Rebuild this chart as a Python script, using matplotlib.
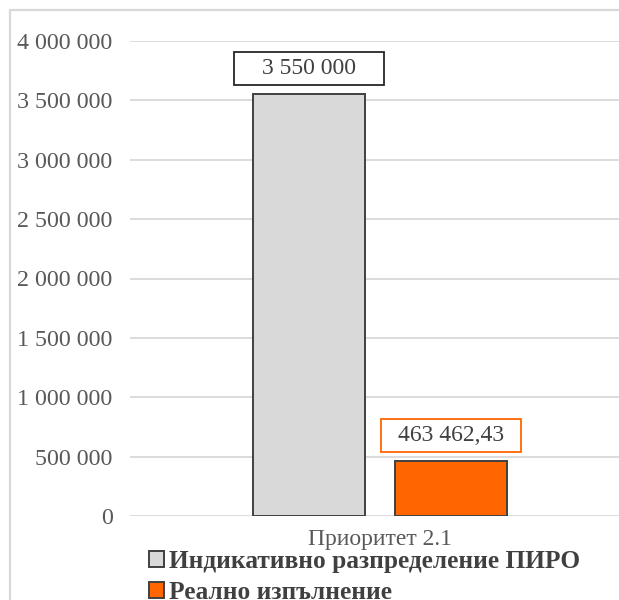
import matplotlib
matplotlib.use("Agg")
import matplotlib.pyplot as plt
from matplotlib.patches import Patch, Rectangle
from matplotlib.path import Path
from matplotlib.ticker import FuncFormatter, MultipleLocator

# ---- data ----
category = "Приоритет 2.1"
series_names = ["Индикативно разпределение ПИРО", "Реално изпълнение"]
values = [3550000, 463462.43]
value_labels = ["3 550 000", "463 462,43"]
ytick_step = 500000
ymax = 4000000

colors = ["#d9d9d9", "#ff6600"]
edge = "#404040"
label_edges = ["#262626", "#ff6600"]
label_padx = [28, 17]  # px horizontal padding of label boxes

plt.rcParams['font.family'] = ['Liberation Serif', 'DejaVu Serif']

W, H = 619, 600
fig = plt.figure(figsize=(W / 100, H / 100), dpi=100)
fig.patch.set_facecolor("white")

# outer chart frame (cropped)
fig.add_artist(Rectangle((10 / W, -0.1), 1.2, 1 - 10 / H + 0.1, transform=fig.transFigure,
                         fill=False, ec="#d9d9d9", lw=1.6))

ax = fig.add_axes([130 / W, 1 - 516 / H, 500 / W, (516 - 41) / H])
ax.set_xlim(-0.5, 0.5)
ax.set_ylim(0, ymax)
for s in ax.spines.values():
    s.set_visible(False)
ax.yaxis.set_major_locator(MultipleLocator(ytick_step))
ax.yaxis.set_major_formatter(FuncFormatter(lambda v, p: f"{int(v):,}".replace(",", " ")))
ax.tick_params(axis='y', length=0, pad=12.5, labelsize=17.3, labelcolor="#595959")
ax.grid(axis='y', color="#d9d9d9", lw=1.3)
ax.set_axisbelow(True)
ax.set_xticks([0])
ax.set_xticklabels([category])
ax.tick_params(axis='x', length=0, pad=9, labelsize=17, labelcolor="#595959")

bw = 0.224
offsets = [-0.142, 0.142]
for i, (v, c) in enumerate(zip(values, colors)):
    ax.bar(offsets[i], v, width=bw, color=c, edgecolor=edge, lw=1.4, zorder=3)


def make_box(padx_px, pady_px):
    def box(x0, y0, width, height, mutation_size):
        return Path([(x0 - padx_px, y0 - pady_px), (x0 + width + padx_px, y0 - pady_px),
                     (x0 + width + padx_px, y0 + height + pady_px),
                     (x0 - padx_px, y0 + height + pady_px), (x0 - padx_px, y0 - pady_px)],
                    closed=True)
    return box


for i, v in enumerate(values):
    ax.annotate(value_labels[i], xy=(offsets[i], v), xytext=(0, 18.5), textcoords='offset points',
                ha='center', va='center', fontsize=17, color="#404040", zorder=5,
                bbox=dict(boxstyle=make_box(label_padx[i], 6), fc="white",
                          ec=label_edges[i], lw=1.3))

handles = [Patch(facecolor=c, edgecolor=edge, lw=1.4) for c in colors]
leg = fig.legend(handles, series_names, loc='upper left', bbox_to_anchor=(149 / W, 1 - 550 / H),
                 frameon=False, ncol=1, handlelength=0.58, handleheight=0.58, handletextpad=0.22,
                 labelspacing=0.3, borderpad=0, borderaxespad=0,
                 prop=dict(family=['Liberation Serif'], weight='bold', size=18.3))
for t in leg.get_texts():
    t.set_color("#404040")

fig.savefig("out.png", dpi=100)
